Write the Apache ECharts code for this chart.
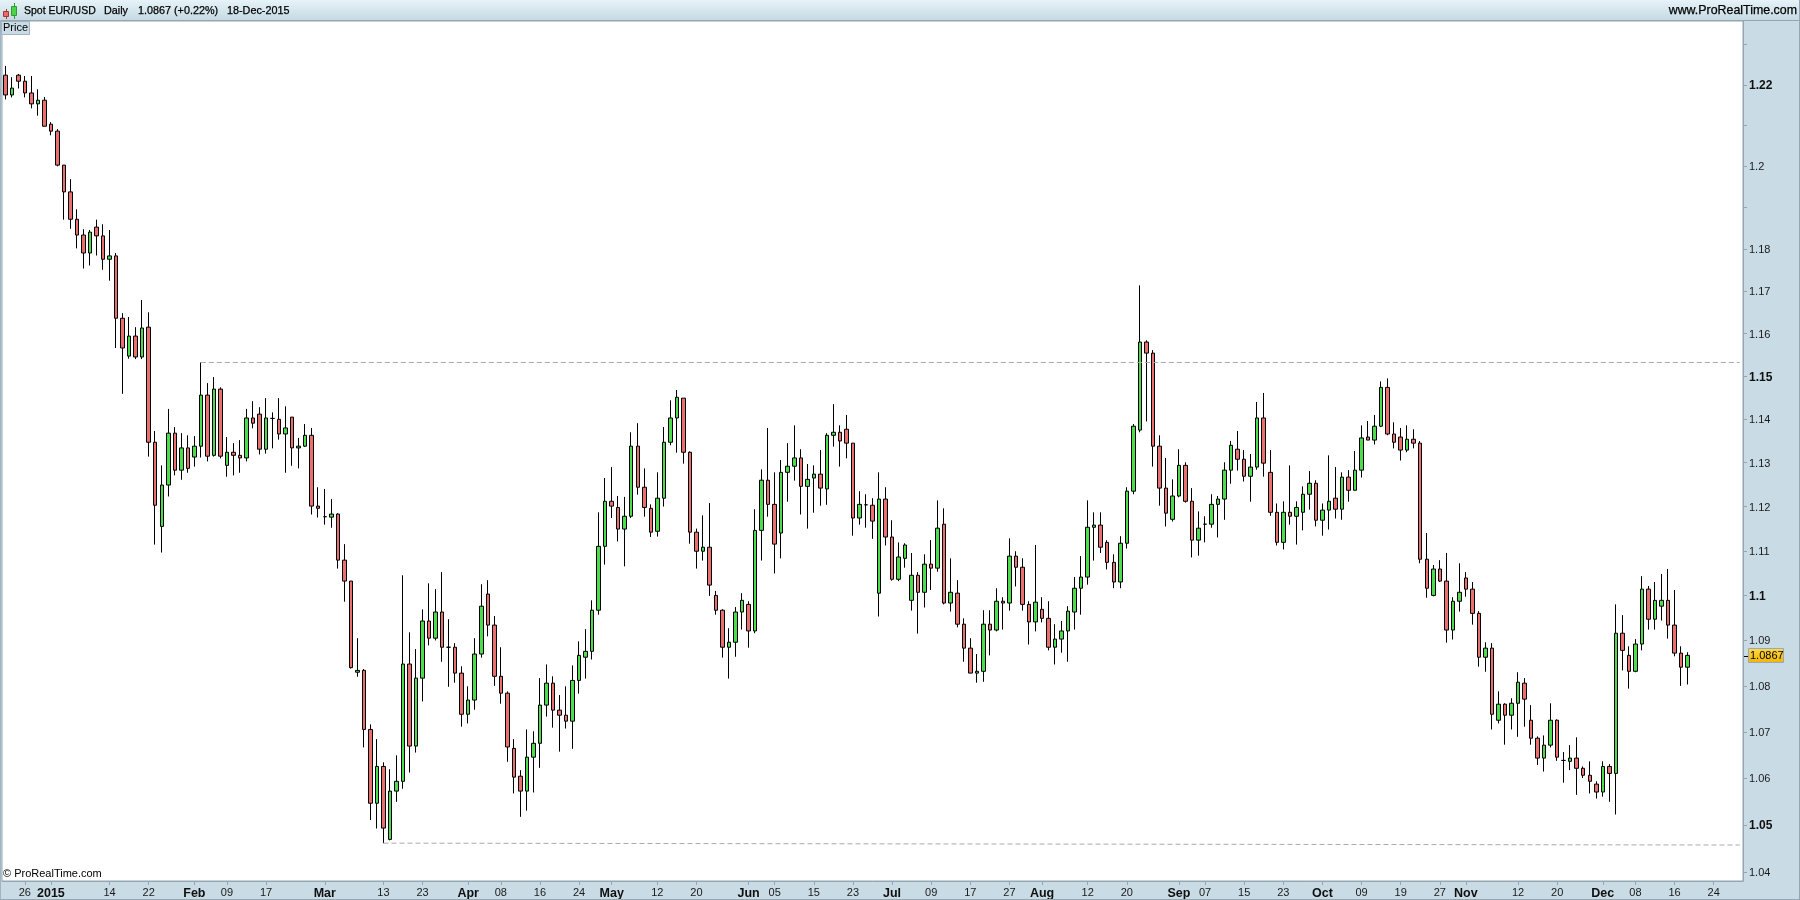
<!DOCTYPE html>
<html><head><meta charset="utf-8"><title>Spot EUR/USD Daily</title>
<style>html,body{margin:0;padding:0;background:#c9dbe5}#c{width:1800px;height:900px}</style>
<script src="https://cdn.jsdelivr.net/npm/echarts@6/dist/echarts.min.js"></script></head>
<body><div id="c"></div><script>
const opens=[1.2224,1.2175,1.2224,1.2209,1.2180,1.2153,1.2162,1.2103,1.2086,1.2003,
1.1938,1.1872,1.1834,1.1791,1.1853,1.1832,1.1776,1.1784,1.1636,1.1547,
1.1594,1.1545,1.1615,1.1347,1.1155,1.1249,1.1368,1.1283,1.1334,1.1313,
1.1338,1.1456,1.1317,1.1470,1.1294,1.1324,1.1317,1.1311,1.1403,1.1412,
1.1331,1.1402,1.1400,1.1366,1.1405,1.1334,1.1338,1.1363,1.1201,1.1177,
1.1176,1.1183,1.1079,1.1032,1.0830,1.0834,1.0705,1.0546,1.0625,1.0469,
1.0572,1.0593,1.0848,1.0669,1.0817,1.0943,1.0905,1.0963,1.0885,1.0885,
1.0828,1.0738,1.0769,1.0870,1.1003,1.0934,1.0821,1.0784,1.0664,1.0604,
1.0572,1.0645,1.0675,1.0758,1.0806,1.0747,1.0736,1.0723,1.0812,1.0863,
1.0876,1.0967,1.1110,1.1212,1.1198,1.1149,1.1178,1.1338,1.1244,1.1196,
1.1144,1.1219,1.1347,1.1403,1.1449,1.1324,1.1142,1.1099,1.1108,1.1000,
1.0967,1.0885,1.0896,1.0963,1.0980,1.0921,1.1146,1.1260,1.1205,1.1140,
1.1278,1.1292,1.1311,1.1246,1.1265,1.1274,1.1240,1.1363,1.1370,1.1377,
1.1345,1.1174,1.1204,1.1203,1.1005,1.1217,1.1131,1.1036,1.1083,1.0989,
1.1045,1.1007,1.1070,1.1061,1.1160,1.0983,1.1005,1.0936,1.0883,1.0828,
1.0832,1.0936,1.0923,1.0987,1.0983,1.1088,1.1063,1.0980,1.0941,1.0969,
1.0949,1.0885,1.0903,1.0921,1.0963,1.1016,1.1041,1.1153,1.1158,1.1119,
1.1074,1.1030,1.1117,1.1235,1.1375,1.1580,1.1554,1.1338,1.1242,1.1171,
1.1224,1.1294,1.1212,1.1124,1.1160,1.1160,1.1205,1.1217,1.1283,1.1331,
1.1308,1.1269,1.1290,1.1403,1.1278,1.1187,1.1119,1.1187,1.1178,1.1187,
1.1228,1.1253,1.1169,1.1192,1.1219,1.1194,1.1267,1.1237,1.1283,1.1359,
1.1352,1.1384,1.1474,1.1366,1.1359,1.1329,1.1354,1.1345,1.1081,1.1000,
1.1059,1.1032,1.0923,1.0987,1.1039,1.1014,1.0960,1.0863,1.0883,1.0725,
1.0760,1.0736,1.0762,1.0806,1.0725,1.0686,1.0643,1.0671,1.0725,1.0638,
1.0636,1.0643,1.0621,1.0606,1.0587,1.0570,1.0625,1.0610,1.0916,1.0867,
1.0832,1.0892,1.1014,1.0947,1.0976,1.0989,1.0934,1.0872,1.0841];
const highs=[1.2247,1.2219,1.2227,1.2222,1.2222,1.2189,1.2170,1.2108,1.2091,1.2003,
1.1969,1.1896,1.1848,1.1846,1.1871,1.1860,1.1846,1.1791,1.1648,1.1639,
1.1615,1.1679,1.1650,1.1373,1.1294,1.1424,1.1382,1.1368,1.1363,1.1361,
1.1532,1.1484,1.1498,1.1474,1.1359,1.1345,1.1352,1.1424,1.1442,1.1428,
1.1449,1.1416,1.1449,1.1430,1.1405,1.1357,1.1389,1.1380,1.1244,1.1240,
1.1217,1.1185,1.1115,1.1032,1.0905,1.0837,1.0716,1.0684,1.0634,1.0619,
1.0649,1.1045,1.0918,1.0881,1.0969,1.1027,1.1014,1.1052,1.0947,1.0894,
1.0843,1.0799,1.0905,1.1025,1.1034,1.0954,1.0885,1.0788,1.0684,1.0617,
1.0705,1.0701,1.0817,1.0847,1.0821,1.0780,1.0799,1.0845,1.0898,1.0925,
1.0989,1.1187,1.1265,1.1290,1.1224,1.1222,1.1370,1.1391,1.1287,1.1205,
1.1278,1.1382,1.1444,1.1468,1.1449,1.1326,1.1150,1.1180,1.1208,1.1010,
1.0969,1.0927,1.0974,1.1005,1.0987,1.1194,1.1285,1.1380,1.1278,1.1306,
1.1345,1.1386,1.1331,1.1297,1.1294,1.1329,1.1368,1.1435,1.1386,1.1410,
1.1345,1.1235,1.1228,1.1219,1.1278,1.1244,1.1169,1.1119,1.1117,1.1095,
1.1052,1.1092,1.1124,1.1214,1.1196,1.1083,1.1034,1.0949,1.0905,1.0870,
1.0967,1.0967,1.1016,1.0996,1.1128,1.1099,1.1083,1.0987,1.1113,1.0996,
1.0987,1.0936,1.0943,1.0976,1.1041,1.1088,1.1214,1.1187,1.1187,1.1124,
1.1092,1.1133,1.1244,1.1389,1.1714,1.1584,1.1561,1.1363,1.1311,1.1262,
1.1331,1.1301,1.1242,1.1189,1.1178,1.1228,1.1224,1.1301,1.1350,1.1373,
1.1329,1.1320,1.1440,1.1461,1.1329,1.1207,1.1212,1.1294,1.1212,1.1246,
1.1281,1.1260,1.1207,1.1317,1.1290,1.1278,1.1283,1.1327,1.1386,1.1396,
1.1410,1.1488,1.1495,1.1393,1.1380,1.1386,1.1377,1.1350,1.1140,1.1068,
1.1079,1.1095,1.0996,1.1072,1.1052,1.1030,1.0965,1.0896,1.0894,1.0788,
1.0762,1.0773,1.0830,1.0817,1.0758,1.0690,1.0692,1.0762,1.0727,1.0656,
1.0671,1.0688,1.0625,1.0636,1.0593,1.0636,1.0630,1.0980,1.0956,1.0887,
1.0903,1.1043,1.1021,1.1030,1.1048,1.1059,1.1012,1.0887,1.0874];
const lows=[1.2164,1.2169,1.2191,1.2169,1.2142,1.2124,1.2098,1.2076,1.2000,1.1871,
1.1849,1.1802,1.1754,1.1761,1.1785,1.1751,1.1725,1.1566,1.1459,1.1541,
1.1540,1.1540,1.1314,1.1114,1.1096,1.1223,1.1271,1.1261,1.1277,1.1291,
1.1312,1.1303,1.1314,1.1310,1.1268,1.1271,1.1277,1.1303,1.1379,1.1319,
1.1321,1.1333,1.1353,1.1277,1.1293,1.1287,1.1336,1.1182,1.1175,1.1159,
1.1152,1.1060,1.0986,1.0838,1.0820,1.0666,1.0510,1.0492,1.0461,1.0467,
1.0549,1.0577,1.0612,1.0655,1.0766,1.0889,1.0900,1.0853,1.0798,1.0807,
1.0711,1.0718,1.0748,1.0862,1.0909,1.0800,1.0761,1.0635,1.0567,1.0517,
1.0530,1.0569,1.0622,1.0733,1.0709,1.0657,1.0707,1.0663,1.0783,1.0816,
1.0858,1.0957,1.1069,1.1174,1.1121,1.1065,1.1174,1.1227,1.1177,1.1131,
1.1132,1.1200,1.1340,1.1323,1.1298,1.1116,1.1060,1.1078,1.0999,1.0957,
1.0862,1.0816,1.0864,1.0924,1.0884,1.0916,1.1078,1.1177,1.1049,1.1083,
1.1211,1.1259,1.1182,1.1150,1.1186,1.1202,1.1204,1.1337,1.1291,1.1310,
1.1134,1.1159,1.1152,1.1127,1.0953,1.1112,1.1033,1.1032,1.1062,1.0966,
1.0915,1.0973,1.1012,1.1053,1.0980,1.0964,1.0929,1.0853,1.0828,1.0807,
1.0809,1.0867,1.0920,1.0924,1.0966,1.1020,1.0966,1.0891,1.0920,1.0940,
1.0878,1.0847,1.0873,1.0853,1.0924,1.0957,1.1024,1.1078,1.1095,1.1058,
1.1016,1.1016,1.1105,1.1228,1.1370,1.1395,1.1291,1.1202,1.1155,1.1166,
1.1221,1.1209,1.1085,1.1089,1.1119,1.1152,1.1130,1.1170,1.1252,1.1282,
1.1257,1.1211,1.1284,1.1268,1.1179,1.1112,1.1103,1.1159,1.1114,1.1146,
1.1193,1.1155,1.1134,1.1148,1.1173,1.1170,1.1211,1.1237,1.1266,1.1352,
1.1342,1.1382,1.1363,1.1333,1.1305,1.1324,1.1333,1.1072,1.0995,1.0998,
1.1030,1.0895,1.0902,1.0964,1.0997,1.0935,1.0842,1.0831,1.0705,1.0718,
1.0672,1.0705,1.0689,1.0711,1.0672,1.0628,1.0614,1.0666,1.0637,1.0590,
1.0617,1.0564,1.0600,1.0567,1.0556,1.0560,1.0549,1.0522,1.0834,1.0794,
1.0830,1.0878,1.0924,1.0924,1.0944,1.0904,1.0865,1.0800,1.0803];
const closes=[1.2175,1.2192,1.2209,1.2180,1.2153,1.2162,1.2098,1.2086,1.2003,1.1938,
1.1872,1.1834,1.1791,1.1841,1.1832,1.1776,1.1784,1.1636,1.1566,1.1594,
1.1545,1.1613,1.1347,1.1203,1.1249,1.1368,1.1283,1.1334,1.1287,1.1338,
1.1456,1.1315,1.1470,1.1315,1.1324,1.1317,1.1311,1.1403,1.1391,1.1331,
1.1403,1.1402,1.1366,1.1380,1.1334,1.1338,1.1363,1.1201,1.1196,1.1177,
1.1183,1.1079,1.1032,1.0840,1.0834,1.0705,1.0546,1.0625,1.0493,1.0572,
1.0593,1.0848,1.0669,1.0817,1.0943,1.0905,1.0963,1.0885,1.0885,1.0828,
1.0738,1.0769,1.0870,1.0976,1.0934,1.0821,1.0784,1.0667,1.0602,1.0572,
1.0645,1.0675,1.0758,1.0806,1.0747,1.0736,1.0723,1.0812,1.0867,1.0876,
1.0967,1.1110,1.1212,1.1201,1.1149,1.1178,1.1338,1.1244,1.1198,1.1142,
1.1219,1.1347,1.1403,1.1451,1.1324,1.1142,1.1099,1.1108,1.1023,1.0967,
1.0885,1.0896,1.0963,1.0989,1.0921,1.1146,1.1260,1.1205,1.1115,1.1278,
1.1292,1.1311,1.1246,1.1262,1.1274,1.1242,1.1363,1.1370,1.1350,1.1345,
1.1174,1.1205,1.1204,1.1167,1.1217,1.1131,1.1036,1.1086,1.1113,1.1045,
1.1007,1.1070,1.1061,1.1151,1.0983,1.1007,1.0936,1.0883,1.0828,1.0832,
1.0936,1.0923,1.0987,1.0983,1.1088,1.1063,1.0980,1.0941,1.0985,1.0949,
1.0885,1.0903,1.0921,1.0965,1.1016,1.1041,1.1153,1.1158,1.1108,1.1074,
1.1030,1.1117,1.1235,1.1384,1.1580,1.1554,1.1338,1.1242,1.1185,1.1224,
1.1294,1.1212,1.1124,1.1151,1.1160,1.1205,1.1217,1.1283,1.1340,1.1308,
1.1269,1.1290,1.1403,1.1299,1.1187,1.1119,1.1187,1.1178,1.1198,1.1228,
1.1253,1.1169,1.1192,1.1212,1.1194,1.1267,1.1237,1.1283,1.1357,1.1352,
1.1384,1.1474,1.1366,1.1347,1.1329,1.1354,1.1345,1.1081,1.1016,1.1059,
1.1032,1.0923,1.0987,1.1007,1.1014,1.0960,1.0863,1.0883,1.0738,1.0760,
1.0736,1.0762,1.0808,1.0771,1.0686,1.0643,1.0671,1.0725,1.0645,1.0638,
1.0643,1.0621,1.0606,1.0593,1.0570,1.0625,1.0610,1.0916,1.0878,1.0832,
1.0892,1.1014,1.0947,1.0989,1.0989,1.0934,1.0872,1.0841,1.0867];
const dateTickSlots=[3,7,16,22,29,34,40,49,58,64,71,76,82,88,93,100,106,114,118,124,130,136,142,148,154,159,166,172,180,184,190,196,202,208,214,220,224,232,238,245,250,256,262];
const dateTickLabels=['26','2015','14','22','Feb','09','17','Mar','13','23','Apr','08','16','24','May','12','20','Jun','05','15','23','Jul','09','17','27','Aug','12','20','Sep','07','15','23','Oct','09','19','27','Nov','12','20','Dec','08','16','24'];
const slotCount=267;
const priceTicks=[1.04,1.05,1.06,1.07,1.08,1.09,1.1,1.11,1.12,1.13,1.14,1.15,1.16,1.17,1.18,1.19,1.2,1.21,1.22,1.23];
const priceLabels=[1.04,1.05,1.06,1.07,1.08,1.09,1.1,1.11,1.12,1.13,1.14,1.15,1.16,1.17,1.18,1.2,1.22];
const boldPrices=[1.05,1.1,1.15,1.22];
const resistanceLine=[[30,1.1533],[266,1.1533]];
const supportLine=[[58,1.0461],[266,1.0457]];
const lastPrice='1.0867';

const categories=Array.from({length:slotCount},(_,i)=>{const k=dateTickSlots.indexOf(i);return k>=0?dateTickLabels[k]:'';});
const candles=opens.map((o,i)=>[o,closes[i],lows[i],highs[i]]);
const isTick=(i,v)=>v!=='';
const panel='#c9dbe5',edge='#93a6b2';
const txt=(x,y,s,extra)=>({type:'text',x,y,z:20,silent:true,style:Object.assign({text:s,fill:'#000',fontFamily:'Liberation Sans',fontSize:11,verticalAlign:'middle',align:'left'},extra||{})});
const heavy={stroke:'#000',lineWidth:0.25};
const chart=echarts.init(document.getElementById('c'),null,{renderer:'canvas',width:1800,height:900});
chart.setOption({
 animation:false,backgroundColor:panel,
 grid:{left:2,top:21,width:1741,height:860,show:true,backgroundColor:'#fff',borderColor:edge,borderWidth:1},
 xAxis:{type:'category',data:categories,boundaryGap:true,
  axisLine:{show:true,lineStyle:{color:edge,width:1}},
  axisTick:{show:true,alignWithLabel:true,interval:isTick,length:4,lineStyle:{color:edge}},
  axisLabel:{show:true,interval:isTick,hideOverlap:false,margin:6,color:'#1a1a1a',fontFamily:'Liberation Sans',fontSize:11,
   formatter:v=>/[A-Za-z]|2015/.test(v)?'{b|'+v+'}':v,
   rich:{b:{fontFamily:'Liberation Sans',fontWeight:'bold',fontSize:12.5,color:'#101010'}}},
  splitLine:{show:false}},
 yAxis:{type:'log',logBase:10,position:'right',min:1.0381,max:1.2359,
  axisLine:{show:true,onZero:false,lineStyle:{color:edge}},
  axisTick:{show:true,customValues:priceTicks,length:4,lineStyle:{color:edge}},
  axisLabel:{show:true,customValues:priceLabels,margin:6,padding:[2,0,0,0],color:'#1a1a1a',fontFamily:'Liberation Sans',fontSize:11,
   formatter:v=>{const n=+(+v).toFixed(2);return boldPrices.includes(n)?'{b|'+n+'}':String(n);},
   rich:{b:{fontFamily:'Liberation Sans',fontWeight:'bold',fontSize:12,color:'#101010'}}},
  splitLine:{show:false},minorTick:{show:false}},
 series:[{type:'candlestick',name:'Spot EUR/USD',data:candles,barWidth:4,silent:true,
  itemStyle:{color:'#4cdc4c',color0:'#ea7070',borderColor:'#000',borderColor0:'#000',borderColorDoji:'#000',borderWidth:1},
  markLine:{silent:true,symbol:'none',label:{show:false},animation:false,
   lineStyle:{color:'#aaaaaa',type:[5,3],width:1},
   data:[[{coord:resistanceLine[0]},{coord:resistanceLine[1]}],[{coord:supportLine[0]},{coord:supportLine[1]}]]}}],
 graphic:[
  {type:'rect',shape:{x:0,y:0,width:1800,height:20},z:10,silent:true,style:{fill:new echarts.graphic.LinearGradient(0,0,0,1,[{offset:0,color:'#e6f3f8'},{offset:1,color:'#c6dae4'}])}},
  {type:'rect',shape:{x:0,y:20,width:1800,height:1},z:11,silent:true,style:{fill:edge}},
  {type:'rect',shape:{x:0,y:20,width:1,height:880},z:11,silent:true,style:{fill:'#a3b4bf'}},
  {type:'rect',shape:{x:1799,y:0,width:1,height:900},z:11,silent:true,style:{fill:edge}},
  {type:'rect',shape:{x:0,y:899,width:1800,height:1},z:11,silent:true,style:{fill:edge}},
  {type:'rect',shape:{x:6,y:9,width:1,height:10},z:12,silent:true,style:{fill:'#a33'}},
  {type:'rect',shape:{x:14,y:3,width:1,height:16},z:12,silent:true,style:{fill:'#393'}},
  {type:'rect',shape:{x:3.5,y:11.5,width:5,height:5},z:13,silent:true,style:{fill:'#e86a6a',stroke:'#a33',lineWidth:1}},
  {type:'rect',shape:{x:11.5,y:6.5,width:5,height:9},z:13,silent:true,style:{fill:'#46d646',stroke:'#393',lineWidth:1}},
  txt(24,11,'Spot EUR/USD',Object.assign({fontSize:10.5},heavy)),txt(104,11,'Daily',Object.assign({fontSize:10.8},heavy)),txt(138,11,'1.0867 (+0.22%)',Object.assign({fontSize:10.8},heavy)),txt(227,11,'18-Dec-2015',Object.assign({fontSize:10.8},heavy)),
  txt(1797,11,'www.ProRealTime.com',Object.assign({align:'right',fontSize:12.4},heavy)),
  {type:'rect',shape:{x:1.5,y:21.5,width:28,height:13},z:12,silent:true,style:{fill:panel,stroke:'#a3b4bf',lineWidth:1}},
  txt(3,27.5,'Price'),
  txt(3,874,'© ProRealTime.com'),
  {type:'rect',shape:{x:1744,y:656,width:4,height:1},z:12,silent:true,style:{fill:'#000'}},
  {type:'rect',shape:{x:1748.5,y:648.5,width:35,height:14},z:12,silent:true,style:{fill:new echarts.graphic.LinearGradient(0,0,0,1,[{offset:0,color:'#ffd94a'},{offset:1,color:'#f2b400'}]),stroke:'#9aa9b3',lineWidth:1}},
  txt(1750,656,lastPrice,{fontSize:11})
 ]
});
</script></body></html>
